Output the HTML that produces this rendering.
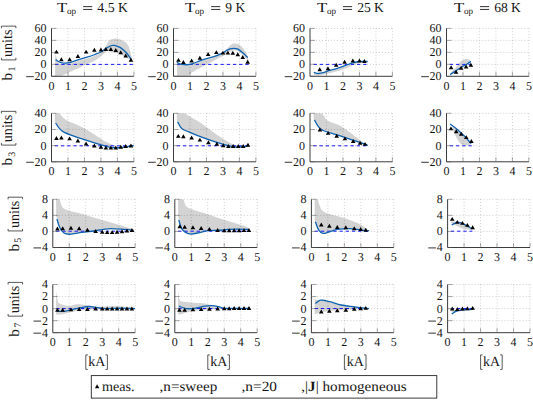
<!DOCTYPE html>
<html><head><meta charset="utf-8"><style>
html,body{margin:0;padding:0;background:#fff;}
body{width:533px;height:405px;overflow:hidden;}
svg{display:block;font-family:"Liberation Serif", serif;text-rendering:geometricPrecision;}
text{fill:#161616;}
</style></head><body>
<svg width="533" height="405" viewBox="0 0 533 405">
<clipPath id="c00"><rect x="51.5" y="28.4" width="82.4" height="47.9"/></clipPath>
<path d="M51.5,28.4H133.9 M51.5,40.38H133.9 M51.5,52.35H133.9 M51.5,64.32H133.9 M67.98,28.4V76.3 M84.46,28.4V76.3 M100.94,28.4V76.3 M117.42,28.4V76.3 M133.9,28.4V76.3" stroke="#a8a8a8" stroke-width="0.7" stroke-dasharray="0.8 2.2" fill="none"/>
<path d="M55.13,53.25 C55.35,53.9 55.81,55.49 56.44,57.14 C57.08,58.79 57.68,61.98 58.92,63.13 C60.15,64.28 62.07,63.93 63.86,64.03 C65.65,64.13 67.29,64.23 69.63,63.73 C71.96,63.23 75.12,61.88 77.87,61.03 C80.61,60.18 83.36,59.49 86.11,58.64 C88.85,57.79 91.88,56.94 94.35,55.94 C96.82,54.94 99.26,53.9 100.94,52.65 C102.62,51.4 103.41,49.86 104.4,48.46 C105.39,47.06 106.05,45.59 106.87,44.27 C107.7,42.94 107.94,41.47 109.34,40.49 C110.75,39.52 112.86,38.33 115.28,38.4 C117.69,38.47 121.73,39.8 123.85,40.91 C125.96,42.03 126.98,43.56 127.97,45.11 C128.96,46.65 129.07,47.8 129.78,50.19 C130.49,52.59 131.84,57.93 132.25,59.48 L132.25,60.73 C131.98,60.66 131.73,60.94 130.6,60.31 C129.48,59.68 127.34,58.02 125.5,56.96 C123.65,55.9 121.95,54.81 119.56,53.97 C117.17,53.12 113.27,52.39 111.16,51.87 C109.04,51.35 107.94,50.66 106.87,50.85 C105.8,51.04 106.54,51.5 104.73,53.01 C102.92,54.52 99.07,58.01 96,59.89 C92.92,61.78 88.94,63.08 86.27,64.32 C83.61,65.57 82.95,66.02 80.01,67.38 C77.07,68.74 71.5,71.14 68.64,72.47 C65.78,73.8 64.08,74.65 62.87,75.34 C61.66,76.03 62.62,76.34 61.39,76.6 C60.15,76.86 56.5,76.85 55.46,76.9 C54.41,76.95 55.18,76.9 55.13,76.9 Z" fill="#000" fill-opacity="0.172" clip-path="url(#c00)"/>
<path d="M55.13,64.4H133.9" stroke="#1a1aff" stroke-width="1.0" stroke-dasharray="3.3 2.9" fill="none"/>
<path d="M55.62,59.65 C56.31,60.08 58.37,61.65 59.74,62.23 C61.11,62.81 62.21,63.06 63.86,63.13 C65.51,63.2 67.29,63.2 69.63,62.65 C71.96,62.1 75.12,60.7 77.87,59.83 C80.61,58.97 83.36,58.29 86.11,57.44 C88.85,56.59 91.88,55.64 94.35,54.74 C96.82,53.85 99.02,53.1 100.94,52.05 C102.86,51 104.24,49.51 105.88,48.46 C107.53,47.41 109.45,46.26 110.83,45.76 C112.2,45.26 113.03,45.36 114.12,45.46 C115.22,45.56 116.32,45.96 117.42,46.36 C118.52,46.76 119.34,46.91 120.72,47.86 C122.09,48.81 123.96,50.22 125.66,52.05 C127.36,53.88 130.05,57.69 130.93,58.82" stroke="#0e62b0" stroke-width="1.3" fill="none" stroke-linejoin="round" clip-path="url(#c00)"/>
<path d="M56.44,49.65L54.14,53.6L58.74,53.6Z M61.39,57.26L59.09,61.21L63.69,61.21Z M69.63,57.26L67.33,61.21L71.93,61.21Z M77.87,54.08L75.57,58.03L80.17,58.03Z M86.11,49.65L83.81,53.6L88.41,53.6Z M94.35,47.85L92.05,51.8L96.65,51.8Z M100.94,47.44L98.64,51.39L103.24,51.39Z M105.88,47.08L103.58,51.03L108.18,51.03Z M110.83,47.08L108.53,51.03L113.13,51.03Z M115.77,47.97L113.47,51.92L118.07,51.92Z M120.72,50.25L118.42,54.2L123.02,54.2Z M125.66,53.54L123.36,57.49L127.96,57.49Z M130.93,57.85L128.63,61.8L133.23,61.8Z" fill="#000"/>
<path d="M51.5,28.4V76.3H133.9" stroke="#262626" stroke-width="0.9" fill="none"/>
<path d="M51.5,28.4h5 M51.5,40.38h5 M51.5,52.35h5 M51.5,64.32h5 M51.5,76.3h5 M67.98,76.3v-4.5 M84.46,76.3v-4.5 M100.94,76.3v-4.5 M117.42,76.3v-4.5 M133.9,76.3v-4.5" stroke="#555" stroke-width="0.5" fill="none"/>
<text x="46.6" y="32.3" font-size="12" text-anchor="end">60</text>
<text x="46.6" y="44.27" font-size="12" text-anchor="end">40</text>
<text x="46.6" y="56.25" font-size="12" text-anchor="end">20</text>
<text x="46.6" y="68.22" font-size="12" text-anchor="end">0</text>
<text x="46.6" y="80.2" font-size="12" text-anchor="end">20</text>
<rect x="26.2" y="76.3" width="7.6" height="0.85" fill="#111"/>
<text x="51.5" y="89.6" font-size="12" text-anchor="middle">0</text>
<text x="67.98" y="89.6" font-size="12" text-anchor="middle">1</text>
<text x="84.46" y="89.6" font-size="12" text-anchor="middle">2</text>
<text x="100.94" y="89.6" font-size="12" text-anchor="middle">3</text>
<text x="117.42" y="89.6" font-size="12" text-anchor="middle">4</text>
<text x="133.9" y="89.6" font-size="12" text-anchor="middle">5</text>
<clipPath id="c01"><rect x="173.5" y="28.4" width="82.4" height="47.9"/></clipPath>
<path d="M173.5,28.4H255.9 M173.5,40.38H255.9 M173.5,52.35H255.9 M173.5,64.32H255.9 M189.98,28.4V76.3 M206.46,28.4V76.3 M222.94,28.4V76.3 M239.42,28.4V76.3 M255.9,28.4V76.3" stroke="#a8a8a8" stroke-width="0.7" stroke-dasharray="0.8 2.2" fill="none"/>
<path d="M176.96,62.23 C177.35,62.53 178.47,63.58 179.27,64.03 C180.06,64.47 180.5,64.71 181.74,64.92 C182.98,65.13 184.98,65.35 186.68,65.28 C188.39,65.21 189.68,65.16 191.96,64.5 C194.24,63.85 197.95,62.19 200.36,61.33 C202.78,60.47 204.18,60.03 206.46,59.36 C208.74,58.68 211.51,58.28 214.04,57.26 C216.57,56.24 219.59,54.46 221.62,53.25 C223.65,52.04 224.97,51.18 226.24,50.01 C227.5,48.85 228.21,47.25 229.2,46.24 C230.19,45.23 231.1,44.41 232.17,43.97 C233.24,43.53 234.5,43.54 235.63,43.61 C236.76,43.68 237.85,43.83 238.93,44.39 C240,44.95 241.18,46.02 242.06,46.96 C242.94,47.9 243.46,48.89 244.2,50.01 C244.94,51.14 245.87,52.48 246.51,53.73 C247.14,54.97 247.63,56.33 247.99,57.5 C248.35,58.67 248.54,60.19 248.65,60.73 L248.65,61.93 C247.93,61.03 245.9,58.19 244.36,56.54 C242.83,54.89 241.07,53.1 239.42,52.05 C237.77,51 236.12,50.3 234.48,50.25 C232.83,50.2 231.1,51.05 229.53,51.75 C227.97,52.45 226.4,53.64 225.08,54.45 C223.76,55.25 227.42,53.43 221.62,56.6 C215.83,59.77 195.58,70.3 190.31,73.49 C185.04,76.67 192.18,75.28 189.98,75.7 C187.78,76.12 179.27,75.95 177.13,76 Z" fill="#000" fill-opacity="0.172" clip-path="url(#c01)"/>
<path d="M177.13,64.4H249.31" stroke="#1a1aff" stroke-width="1.0" stroke-dasharray="3.3 2.9" fill="none"/>
<path d="M176.96,62.11 C177.35,62.36 178.47,63.23 179.27,63.61 C180.06,63.99 180.5,64.2 181.74,64.38 C182.98,64.57 184.98,64.81 186.68,64.74 C188.39,64.67 189.68,64.65 191.96,63.97 C194.24,63.28 197.95,61.5 200.36,60.61 C202.78,59.72 204.18,59.3 206.46,58.64 C208.74,57.98 211.29,57.62 214.04,56.66 C216.79,55.7 220.91,53.91 222.94,52.89 C224.97,51.87 225.05,51.22 226.24,50.55 C227.42,49.89 228.76,49.25 230.03,48.88 C231.29,48.51 232.58,48.34 233.82,48.34 C235.05,48.34 236.21,48.35 237.44,48.88 C238.68,49.41 239.97,50.51 241.23,51.51 C242.5,52.51 243.95,53.87 245.02,54.86 C246.09,55.86 247.22,57.06 247.66,57.5" stroke="#0e62b0" stroke-width="1.3" fill="none" stroke-linejoin="round" clip-path="url(#c01)"/>
<path d="M178.44,57.91L176.14,61.86L180.74,61.86Z M183.39,59.95L181.09,63.9L185.69,63.9Z M191.63,58.45L189.33,62.4L193.93,62.4Z M199.87,55.76L197.57,59.71L202.17,59.71Z M208.11,52.05L205.81,56L210.41,56Z M216.35,50.13L214.05,54.08L218.65,54.08Z M222.94,50.67L220.64,54.62L225.24,54.62Z M227.88,50.67L225.58,54.62L230.18,54.62Z M232.83,50.85L230.53,54.8L235.13,54.8Z M237.77,52.35L235.47,56.3L240.07,56.3Z M242.72,55.04L240.42,58.99L245.02,58.99Z M247.66,59.83L245.36,63.78L249.96,63.78Z" fill="#000"/>
<path d="M173.5,28.4V76.3H255.9" stroke="#262626" stroke-width="0.9" fill="none"/>
<path d="M173.5,28.4h5 M173.5,40.38h5 M173.5,52.35h5 M173.5,64.32h5 M173.5,76.3h5 M189.98,76.3v-4.5 M206.46,76.3v-4.5 M222.94,76.3v-4.5 M239.42,76.3v-4.5 M255.9,76.3v-4.5" stroke="#555" stroke-width="0.5" fill="none"/>
<text x="168.6" y="32.3" font-size="12" text-anchor="end">60</text>
<text x="168.6" y="44.27" font-size="12" text-anchor="end">40</text>
<text x="168.6" y="56.25" font-size="12" text-anchor="end">20</text>
<text x="168.6" y="68.22" font-size="12" text-anchor="end">0</text>
<text x="168.6" y="80.2" font-size="12" text-anchor="end">20</text>
<rect x="148.2" y="76.3" width="7.6" height="0.85" fill="#111"/>
<text x="173.5" y="89.6" font-size="12" text-anchor="middle">0</text>
<text x="189.98" y="89.6" font-size="12" text-anchor="middle">1</text>
<text x="206.46" y="89.6" font-size="12" text-anchor="middle">2</text>
<text x="222.94" y="89.6" font-size="12" text-anchor="middle">3</text>
<text x="239.42" y="89.6" font-size="12" text-anchor="middle">4</text>
<text x="255.9" y="89.6" font-size="12" text-anchor="middle">5</text>
<clipPath id="c02"><rect x="310" y="28.4" width="82.4" height="47.9"/></clipPath>
<path d="M310,28.4H392.4 M310,40.38H392.4 M310,52.35H392.4 M310,64.32H392.4 M326.48,28.4V76.3 M342.96,28.4V76.3 M359.44,28.4V76.3 M375.92,28.4V76.3 M392.4,28.4V76.3" stroke="#a8a8a8" stroke-width="0.7" stroke-dasharray="0.8 2.2" fill="none"/>
<path d="M313.79,73.01 C314.53,73.21 315.85,74.4 318.24,74.2 C320.63,74 324.01,72.96 328.13,71.81 C332.25,70.66 338.84,68.67 342.96,67.32 C347.08,65.97 350.1,64.57 352.85,63.73 C355.59,62.88 357.79,62.53 359.44,62.23 C361.09,61.93 362.19,61.98 362.74,61.93 L362.74,62.23 C361.91,62.38 361.09,61.93 357.79,63.13 C354.5,64.33 347.9,67.67 342.96,69.41 C338.02,71.16 332.25,72.56 328.13,73.61 C324.01,74.65 320.63,75.45 318.24,75.7 C315.85,75.95 314.53,75.2 313.79,75.1 Z" fill="#000" fill-opacity="0.172" clip-path="url(#c02)"/>
<path d="M313.63,64.4H367.68" stroke="#1a1aff" stroke-width="1.0" stroke-dasharray="3.3 2.9" fill="none"/>
<path d="M313.79,72.29 C314.53,72.49 316.67,73.42 318.24,73.49 C319.81,73.56 321.54,73.14 323.18,72.71 C324.83,72.28 325.93,71.61 328.13,70.91 C330.33,70.21 333.9,69.26 336.37,68.52 C338.84,67.77 340.21,67.37 342.96,66.42 C345.71,65.47 350.1,63.65 352.85,62.83 C355.59,62.01 356.97,61.73 359.44,61.51 C361.91,61.29 366.31,61.51 367.68,61.51" stroke="#0e62b0" stroke-width="1.3" fill="none" stroke-linejoin="round" clip-path="url(#c02)"/>
<path d="M319.72,67.19L317.42,71.14L322.02,71.14Z M327.96,66.3L325.66,70.25L330.26,70.25Z M336.2,62.82L333.9,66.77L338.5,66.77Z M344.61,59.83L342.31,63.78L346.91,63.78Z M352.85,58.45L350.55,62.4L355.15,62.4Z M359.44,58.45L357.14,62.4L361.74,62.4Z M364.38,59.11L362.08,63.06L366.68,63.06Z" fill="#000"/>
<path d="M310,28.4V76.3H392.4" stroke="#262626" stroke-width="0.9" fill="none"/>
<path d="M310,28.4h5 M310,40.38h5 M310,52.35h5 M310,64.32h5 M310,76.3h5 M326.48,76.3v-4.5 M342.96,76.3v-4.5 M359.44,76.3v-4.5 M375.92,76.3v-4.5 M392.4,76.3v-4.5" stroke="#555" stroke-width="0.5" fill="none"/>
<text x="305.1" y="32.3" font-size="12" text-anchor="end">60</text>
<text x="305.1" y="44.27" font-size="12" text-anchor="end">40</text>
<text x="305.1" y="56.25" font-size="12" text-anchor="end">20</text>
<text x="305.1" y="68.22" font-size="12" text-anchor="end">0</text>
<text x="305.1" y="80.2" font-size="12" text-anchor="end">20</text>
<rect x="284.7" y="76.3" width="7.6" height="0.85" fill="#111"/>
<text x="310" y="89.6" font-size="12" text-anchor="middle">0</text>
<text x="326.48" y="89.6" font-size="12" text-anchor="middle">1</text>
<text x="342.96" y="89.6" font-size="12" text-anchor="middle">2</text>
<text x="359.44" y="89.6" font-size="12" text-anchor="middle">3</text>
<text x="375.92" y="89.6" font-size="12" text-anchor="middle">4</text>
<text x="392.4" y="89.6" font-size="12" text-anchor="middle">5</text>
<clipPath id="c03"><rect x="446.5" y="28.4" width="82.4" height="47.9"/></clipPath>
<path d="M446.5,28.4H528.9 M446.5,40.38H528.9 M446.5,52.35H528.9 M446.5,64.32H528.9 M462.98,28.4V76.3 M479.46,28.4V76.3 M495.94,28.4V76.3 M512.42,28.4V76.3 M528.9,28.4V76.3" stroke="#a8a8a8" stroke-width="0.7" stroke-dasharray="0.8 2.2" fill="none"/>
<path d="M450.13,73.91 C450.48,73.41 451.39,71.9 452.27,70.91 C453.15,69.92 454.3,69.27 455.4,67.98 C456.5,66.68 457.71,64.39 458.86,63.13 C460.01,61.86 461.17,61.06 462.32,60.37 C463.47,59.68 464.77,59.18 465.78,59 C466.8,58.82 467.65,58.96 468.42,59.3 C469.19,59.63 470.07,60.74 470.4,61.03 L470.4,61.93 C469.71,62.33 467.51,63.55 466.28,64.32 C465.04,65.1 464.35,65.65 462.98,66.6 C461.61,67.55 459.55,68.9 458.04,70.01 C456.53,71.13 455.01,72.46 453.92,73.31 C452.82,74.15 452.08,74.75 451.44,75.1 C450.81,75.45 450.35,75.35 450.13,75.4 Z" fill="#000" fill-opacity="0.172" clip-path="url(#c03)"/>
<path d="M449.8,64.4H471.22" stroke="#1a1aff" stroke-width="1.0" stroke-dasharray="3.3 2.9" fill="none"/>
<path d="M450.13,74.5 C451.17,73.84 454.25,71.87 456.39,70.49 C458.53,69.11 461.19,67.33 462.98,66.24 C464.77,65.15 465.78,64.77 467.1,63.97 C468.42,63.16 470.26,61.82 470.89,61.39" stroke="#0e62b0" stroke-width="1.3" fill="none" stroke-linejoin="round" clip-path="url(#c03)"/>
<path d="M451.11,65.28L448.81,69.23L453.41,69.23Z M456.06,69.83L453.76,73.78L458.36,73.78Z M461.17,65.76L458.87,69.71L463.47,69.71Z M466.11,64.5L463.81,68.45L468.41,68.45Z M470.89,62.76L468.59,66.71L473.19,66.71Z" fill="#000"/>
<path d="M446.5,28.4V76.3H528.9" stroke="#262626" stroke-width="0.9" fill="none"/>
<path d="M446.5,28.4h5 M446.5,40.38h5 M446.5,52.35h5 M446.5,64.32h5 M446.5,76.3h5 M462.98,76.3v-4.5 M479.46,76.3v-4.5 M495.94,76.3v-4.5 M512.42,76.3v-4.5 M528.9,76.3v-4.5" stroke="#555" stroke-width="0.5" fill="none"/>
<text x="441.6" y="32.3" font-size="12" text-anchor="end">60</text>
<text x="441.6" y="44.27" font-size="12" text-anchor="end">40</text>
<text x="441.6" y="56.25" font-size="12" text-anchor="end">20</text>
<text x="441.6" y="68.22" font-size="12" text-anchor="end">0</text>
<text x="441.6" y="80.2" font-size="12" text-anchor="end">20</text>
<rect x="421.2" y="76.3" width="7.6" height="0.85" fill="#111"/>
<text x="446.5" y="89.6" font-size="12" text-anchor="middle">0</text>
<text x="462.98" y="89.6" font-size="12" text-anchor="middle">1</text>
<text x="479.46" y="89.6" font-size="12" text-anchor="middle">2</text>
<text x="495.94" y="89.6" font-size="12" text-anchor="middle">3</text>
<text x="512.42" y="89.6" font-size="12" text-anchor="middle">4</text>
<text x="528.9" y="89.6" font-size="12" text-anchor="middle">5</text>
<clipPath id="c10"><rect x="51.5" y="113.3" width="82.4" height="48.5"/></clipPath>
<path d="M51.5,113.3H133.9 M51.5,129.47H133.9 M51.5,145.63H133.9 M67.98,113.3V161.8 M84.46,113.3V161.8 M100.94,113.3V161.8 M117.42,113.3V161.8 M133.9,113.3V161.8" stroke="#a8a8a8" stroke-width="0.7" stroke-dasharray="0.8 2.2" fill="none"/>
<path d="M54.8,101.17 C55.35,102.52 57.24,107.21 58.09,109.26 C58.94,111.31 59.11,112.1 59.9,113.46 C60.7,114.82 61.55,116.18 62.87,117.42 C64.19,118.66 65.84,119.83 67.82,120.9 C69.79,121.96 71.88,122.5 74.74,123.81 C77.59,125.12 81.6,126.91 84.95,128.74 C88.31,130.57 91.55,132.73 94.84,134.8 C98.14,136.88 101.76,139.53 104.73,141.19 C107.7,142.84 110.53,143.76 112.64,144.74 C114.76,145.73 116.62,146.7 117.42,147.09 L117.42,147.82 C115.63,147.61 110,147.24 106.71,146.6 C103.41,145.97 101.35,145.15 97.64,144.02 C93.94,142.89 88.66,141.21 84.46,139.81 C80.26,138.41 75.86,136.88 72.43,135.61 C69,134.34 65.97,133.32 63.86,132.22 C61.75,131.11 61.11,130.5 59.74,128.98 C58.37,127.46 56.44,124.35 55.62,123.08 C54.8,121.81 54.93,121.67 54.8,121.38 Z" fill="#000" fill-opacity="0.172" clip-path="url(#c10)"/>
<path d="M54.8,145.8H133.9" stroke="#1a1aff" stroke-width="1.0" stroke-dasharray="3.3 2.9" fill="none"/>
<path d="M55.62,123 C56.31,123.98 58.37,127.38 59.74,128.9 C61.11,130.42 61.75,131.03 63.86,132.13 C65.97,133.24 69,134.26 72.43,135.53 C75.86,136.8 80.26,138.33 84.46,139.73 C88.66,141.13 93.94,142.8 97.64,143.94 C101.35,145.07 103.55,145.89 106.71,146.52 C109.87,147.16 113.16,147.74 116.6,147.74 C120.03,147.74 124.42,146.91 127.31,146.52 C130.19,146.13 132.8,145.58 133.9,145.39" stroke="#0e62b0" stroke-width="1.3" fill="none" stroke-linejoin="round" clip-path="url(#c10)"/>
<path d="M56.44,135.94L54.14,139.88L58.74,139.88Z M61.39,135.45L59.09,139.4L63.69,139.4Z M69.63,136.42L67.33,140.37L71.93,140.37Z M77.87,138.52L75.57,142.47L80.17,142.47Z M86.11,141.51L83.81,145.46L88.41,145.46Z M94.35,143.53L92.05,147.48L96.65,147.48Z M100.94,144.75L98.64,148.7L103.24,148.7Z M105.88,145.64L103.58,149.59L108.18,149.59Z M110.83,145.64L108.53,149.59L113.13,149.59Z M115.77,145.64L113.47,149.59L118.07,149.59Z M120.72,144.75L118.42,148.7L123.02,148.7Z M125.66,144.02L123.36,147.97L127.96,147.97Z M130.93,143.45L128.63,147.4L133.23,147.4Z" fill="#000"/>
<path d="M51.5,113.3V161.8H133.9" stroke="#262626" stroke-width="0.9" fill="none"/>
<path d="M51.5,113.3h5 M51.5,129.47h5 M51.5,145.63h5 M51.5,161.8h5 M67.98,161.8v-4.5 M84.46,161.8v-4.5 M100.94,161.8v-4.5 M117.42,161.8v-4.5 M133.9,161.8v-4.5" stroke="#555" stroke-width="0.5" fill="none"/>
<text x="46.6" y="117.2" font-size="12" text-anchor="end">40</text>
<text x="46.6" y="133.37" font-size="12" text-anchor="end">20</text>
<text x="46.6" y="149.53" font-size="12" text-anchor="end">0</text>
<text x="46.6" y="165.7" font-size="12" text-anchor="end">20</text>
<rect x="26.2" y="161.8" width="7.6" height="0.85" fill="#111"/>
<text x="51.5" y="175.1" font-size="12" text-anchor="middle">0</text>
<text x="67.98" y="175.1" font-size="12" text-anchor="middle">1</text>
<text x="84.46" y="175.1" font-size="12" text-anchor="middle">2</text>
<text x="100.94" y="175.1" font-size="12" text-anchor="middle">3</text>
<text x="117.42" y="175.1" font-size="12" text-anchor="middle">4</text>
<text x="133.9" y="175.1" font-size="12" text-anchor="middle">5</text>
<clipPath id="c11"><rect x="173.5" y="113.3" width="82.4" height="48.5"/></clipPath>
<path d="M173.5,113.3H255.9 M173.5,129.47H255.9 M173.5,145.63H255.9 M189.98,113.3V161.8 M206.46,113.3V161.8 M222.94,113.3V161.8 M239.42,113.3V161.8 M255.9,113.3V161.8" stroke="#a8a8a8" stroke-width="0.7" stroke-dasharray="0.8 2.2" fill="none"/>
<path d="M176.8,98.75 C177.62,100.1 180.23,104.39 181.74,106.83 C183.25,109.27 184.32,111.67 185.86,113.38 C187.4,115.09 188.72,115.63 190.97,117.1 C193.22,118.57 196.79,120.56 199.37,122.19 C201.96,123.82 203.08,124.48 206.46,126.88 C209.84,129.28 215.74,133.93 219.64,136.58 C223.54,139.23 227.06,141.32 229.86,142.8 C232.66,144.29 234.31,144.87 236.45,145.47 C238.6,146.08 241.67,146.28 242.72,146.44 L242.72,146.68 C242.17,146.72 241.07,146.94 239.42,146.93 C237.77,146.91 235.52,147.02 232.83,146.6 C230.14,146.19 227.66,145.69 223.27,144.42 C218.87,143.15 212.15,141.04 206.46,139 C200.77,136.97 193.28,133.95 189.16,132.22 C185.04,130.48 183.66,130.3 181.74,128.58 C179.82,126.85 178.44,123.34 177.62,121.87 C176.8,120.4 176.93,120.12 176.8,119.77 Z" fill="#000" fill-opacity="0.172" clip-path="url(#c11)"/>
<path d="M176.8,145.8H249.31" stroke="#1a1aff" stroke-width="1.0" stroke-dasharray="3.3 2.9" fill="none"/>
<path d="M177.62,121.79 C178.31,122.91 179.82,126.77 181.74,128.5 C183.66,130.22 185.04,130.4 189.16,132.13 C193.28,133.87 200.77,136.89 206.46,138.92 C212.15,140.96 218.87,143.07 223.27,144.34 C227.66,145.61 230.14,146.1 232.83,146.52 C235.52,146.94 237.5,146.86 239.42,146.85 C241.34,146.83 242.99,146.64 244.36,146.44 C245.74,146.24 247.11,145.77 247.66,145.63" stroke="#0e62b0" stroke-width="1.3" fill="none" stroke-linejoin="round" clip-path="url(#c11)"/>
<path d="M178.28,133.91L175.98,137.86L180.58,137.86Z M183.39,134.32L181.09,138.27L185.69,138.27Z M191.63,135.45L189.33,139.4L193.93,139.4Z M199.87,137.63L197.57,141.58L202.17,141.58Z M208.44,140.22L206.14,144.17L210.74,144.17Z M216.84,141.84L214.54,145.79L219.14,145.79Z M223.27,143.21L220.97,147.16L225.57,147.16Z M228.38,144.02L226.08,147.97L230.68,147.97Z M233.16,144.02L230.86,147.97L235.46,147.97Z M238.27,144.02L235.97,147.97L240.57,147.97Z M243.21,143.94L240.91,147.89L245.51,147.89Z M247.99,142.73L245.69,146.68L250.29,146.68Z" fill="#000"/>
<path d="M173.5,113.3V161.8H255.9" stroke="#262626" stroke-width="0.9" fill="none"/>
<path d="M173.5,113.3h5 M173.5,129.47h5 M173.5,145.63h5 M173.5,161.8h5 M189.98,161.8v-4.5 M206.46,161.8v-4.5 M222.94,161.8v-4.5 M239.42,161.8v-4.5 M255.9,161.8v-4.5" stroke="#555" stroke-width="0.5" fill="none"/>
<text x="168.6" y="117.2" font-size="12" text-anchor="end">40</text>
<text x="168.6" y="133.37" font-size="12" text-anchor="end">20</text>
<text x="168.6" y="149.53" font-size="12" text-anchor="end">0</text>
<text x="168.6" y="165.7" font-size="12" text-anchor="end">20</text>
<rect x="148.2" y="161.8" width="7.6" height="0.85" fill="#111"/>
<text x="173.5" y="175.1" font-size="12" text-anchor="middle">0</text>
<text x="189.98" y="175.1" font-size="12" text-anchor="middle">1</text>
<text x="206.46" y="175.1" font-size="12" text-anchor="middle">2</text>
<text x="222.94" y="175.1" font-size="12" text-anchor="middle">3</text>
<text x="239.42" y="175.1" font-size="12" text-anchor="middle">4</text>
<text x="255.9" y="175.1" font-size="12" text-anchor="middle">5</text>
<clipPath id="c12"><rect x="310" y="113.3" width="82.4" height="48.5"/></clipPath>
<path d="M310,113.3H392.4 M310,129.47H392.4 M310,145.63H392.4 M326.48,113.3V161.8 M342.96,113.3V161.8 M359.44,113.3V161.8 M375.92,113.3V161.8 M392.4,113.3V161.8" stroke="#a8a8a8" stroke-width="0.7" stroke-dasharray="0.8 2.2" fill="none"/>
<path d="M313.63,98.75 C314.39,100.1 316.84,104.41 318.24,106.83 C319.64,109.26 320.96,111.59 322.03,113.3 C323.1,115.01 323.95,116.03 324.67,117.1 C325.38,118.16 324.91,118.7 326.32,119.69 C327.72,120.67 330.82,122.02 333.07,123 C335.32,123.98 336.45,123.61 339.83,125.59 C343.21,127.57 349.69,132.22 353.34,134.88 C357,137.55 359.63,139.91 361.75,141.59 C363.86,143.28 365.32,144.42 366.03,144.99 L365.21,144.18 C364.66,144.03 364.11,144 361.91,143.29 C359.71,142.58 356.28,141.31 352.02,139.89 C347.77,138.48 341.17,136.35 336.37,134.8 C331.56,133.25 326.21,131.99 323.18,130.6 C320.16,129.21 319.7,128.24 318.24,126.48 C316.78,124.71 315.22,121.4 314.45,120.01 C313.68,118.62 313.76,118.46 313.63,118.15 Z" fill="#000" fill-opacity="0.172" clip-path="url(#c12)"/>
<path d="M313.3,145.8H367.68" stroke="#1a1aff" stroke-width="1.0" stroke-dasharray="3.3 2.9" fill="none"/>
<path d="M314.45,119.93 C315.08,121.01 316.78,124.63 318.24,126.39 C319.7,128.16 320.16,129.13 323.18,130.52 C326.21,131.91 331.56,133.17 336.37,134.72 C341.17,136.27 347.77,138.4 352.02,139.81 C356.28,141.23 359.3,142.29 361.91,143.21 C364.52,144.12 366.72,144.96 367.68,145.31" stroke="#0e62b0" stroke-width="1.3" fill="none" stroke-linejoin="round" clip-path="url(#c12)"/>
<path d="M319.89,127.53L317.59,131.48L322.19,131.48Z M328.13,130.92L325.83,134.87L330.43,134.87Z M336.7,133.83L334.4,137.78L339,137.78Z M344.94,136.42L342.64,140.37L347.24,140.37Z M353.18,139.01L350.88,142.96L355.48,142.96Z M360.1,140.7L357.8,144.65L362.4,144.65Z M365.04,141.92L362.74,145.87L367.34,145.87Z" fill="#000"/>
<path d="M310,113.3V161.8H392.4" stroke="#262626" stroke-width="0.9" fill="none"/>
<path d="M310,113.3h5 M310,129.47h5 M310,145.63h5 M310,161.8h5 M326.48,161.8v-4.5 M342.96,161.8v-4.5 M359.44,161.8v-4.5 M375.92,161.8v-4.5 M392.4,161.8v-4.5" stroke="#555" stroke-width="0.5" fill="none"/>
<text x="305.1" y="117.2" font-size="12" text-anchor="end">40</text>
<text x="305.1" y="133.37" font-size="12" text-anchor="end">20</text>
<text x="305.1" y="149.53" font-size="12" text-anchor="end">0</text>
<text x="305.1" y="165.7" font-size="12" text-anchor="end">20</text>
<rect x="284.7" y="161.8" width="7.6" height="0.85" fill="#111"/>
<text x="310" y="175.1" font-size="12" text-anchor="middle">0</text>
<text x="326.48" y="175.1" font-size="12" text-anchor="middle">1</text>
<text x="342.96" y="175.1" font-size="12" text-anchor="middle">2</text>
<text x="359.44" y="175.1" font-size="12" text-anchor="middle">3</text>
<text x="375.92" y="175.1" font-size="12" text-anchor="middle">4</text>
<text x="392.4" y="175.1" font-size="12" text-anchor="middle">5</text>
<clipPath id="c13"><rect x="446.5" y="113.3" width="82.4" height="48.5"/></clipPath>
<path d="M446.5,113.3H528.9 M446.5,129.47H528.9 M446.5,145.63H528.9 M462.98,113.3V161.8 M479.46,113.3V161.8 M495.94,113.3V161.8 M512.42,113.3V161.8 M528.9,113.3V161.8" stroke="#a8a8a8" stroke-width="0.7" stroke-dasharray="0.8 2.2" fill="none"/>
<path d="M452.27,125.59 C452.95,126.1 454.74,127.27 456.39,128.66 C458.04,130.05 460.51,132.36 462.16,133.91 C463.8,135.46 464.9,136.43 466.28,137.95 C467.65,139.48 469.71,142.2 470.4,143.05 L470.4,144.83 C469.71,144.92 467.65,145.39 466.28,145.39 C464.9,145.39 463.39,145.46 462.16,144.83 C460.92,144.19 459.96,143.07 458.86,141.59 C457.76,140.11 456.53,137.82 455.56,135.93 C454.6,134.05 453.64,132 453.09,130.28 C452.54,128.55 452.41,126.37 452.27,125.59 Z" fill="#000" fill-opacity="0.172" clip-path="url(#c13)"/>
<path d="M449.8,145.8H472.04" stroke="#1a1aff" stroke-width="1.0" stroke-dasharray="3.3 2.9" fill="none"/>
<path d="M450.13,124.05 C451.17,124.82 454.38,127.01 456.39,128.66 C458.39,130.3 460.51,132.36 462.16,133.91 C463.8,135.46 464.79,136.34 466.28,137.95 C467.76,139.57 470.26,142.67 471.06,143.61" stroke="#0e62b0" stroke-width="1.3" fill="none" stroke-linejoin="round" clip-path="url(#c13)"/>
<path d="M450.95,126.4L448.65,130.35L453.25,130.35Z M456.22,129.23L453.92,133.18L458.52,133.18Z M461.17,131.73L458.87,135.68L463.47,135.68Z M466.28,135.13L463.98,139.08L468.58,139.08Z M471.38,139.01L469.08,142.96L473.68,142.96Z" fill="#000"/>
<path d="M446.5,113.3V161.8H528.9" stroke="#262626" stroke-width="0.9" fill="none"/>
<path d="M446.5,113.3h5 M446.5,129.47h5 M446.5,145.63h5 M446.5,161.8h5 M462.98,161.8v-4.5 M479.46,161.8v-4.5 M495.94,161.8v-4.5 M512.42,161.8v-4.5 M528.9,161.8v-4.5" stroke="#555" stroke-width="0.5" fill="none"/>
<text x="441.6" y="117.2" font-size="12" text-anchor="end">40</text>
<text x="441.6" y="133.37" font-size="12" text-anchor="end">20</text>
<text x="441.6" y="149.53" font-size="12" text-anchor="end">0</text>
<text x="441.6" y="165.7" font-size="12" text-anchor="end">20</text>
<rect x="421.2" y="161.8" width="7.6" height="0.85" fill="#111"/>
<text x="446.5" y="175.1" font-size="12" text-anchor="middle">0</text>
<text x="462.98" y="175.1" font-size="12" text-anchor="middle">1</text>
<text x="479.46" y="175.1" font-size="12" text-anchor="middle">2</text>
<text x="495.94" y="175.1" font-size="12" text-anchor="middle">3</text>
<text x="512.42" y="175.1" font-size="12" text-anchor="middle">4</text>
<text x="528.9" y="175.1" font-size="12" text-anchor="middle">5</text>
<clipPath id="c20"><rect x="52.8" y="199.3" width="82.4" height="48.2"/></clipPath>
<path d="M52.8,199.3H135.2 M52.8,215.37H135.2 M52.8,231.43H135.2 M69.28,199.3V247.5 M85.76,199.3V247.5 M102.24,199.3V247.5 M118.72,199.3V247.5 M135.2,199.3V247.5" stroke="#a8a8a8" stroke-width="0.7" stroke-dasharray="0.8 2.2" fill="none"/>
<path d="M56.1,191.27 C56.51,191.6 57.88,191.67 58.57,193.28 C59.25,194.88 59.75,198.97 60.22,200.91 C60.68,202.85 60.77,203.65 61.37,204.92 C61.97,206.2 62.58,207.6 63.84,208.54 C65.11,209.48 65.35,209.48 68.95,210.55 C72.55,211.62 79.88,213.39 85.43,214.97 C90.98,216.54 96.55,218.31 102.24,219.99 C107.93,221.66 114.24,223.43 119.54,225.01 C124.85,226.58 131.63,228.69 134.05,229.43 L133.55,230.43 C131.63,230.23 125.86,229.53 122.02,229.22 C118.17,228.92 113.78,228.55 110.48,228.62 C107.18,228.69 105.81,229.12 102.24,229.63 C98.67,230.13 93.18,231.07 89.06,231.63 C84.94,232.2 80.82,232.6 77.52,233.04 C74.22,233.48 71.53,234.25 69.28,234.25 C67.03,234.25 65.6,234.18 64.01,233.04 C62.41,231.9 60.9,229.76 59.72,227.42 C58.54,225.07 57.52,220.99 56.92,218.98 C56.32,216.97 56.23,215.97 56.1,215.37 Z" fill="#000" fill-opacity="0.172" clip-path="url(#c20)"/>
<path d="M56.1,231.2H135.2" stroke="#1a1aff" stroke-width="1.0" stroke-dasharray="3.3 2.9" fill="none"/>
<path d="M56.92,218.98 C57.39,220.39 58.54,225.07 59.72,227.42 C60.9,229.76 62.41,231.9 64.01,233.04 C65.6,234.18 67.03,234.25 69.28,234.25 C71.53,234.25 74.22,233.48 77.52,233.04 C80.82,232.6 84.94,232.2 89.06,231.63 C93.18,231.07 98.67,230.13 102.24,229.63 C105.81,229.12 107.18,228.69 110.48,228.62 C113.78,228.55 118.17,228.92 122.02,229.22 C125.86,229.53 131.63,230.23 133.55,230.43" stroke="#0e62b0" stroke-width="1.3" fill="none" stroke-linejoin="round" clip-path="url(#c20)"/>
<path d="M57.41,226.52L55.11,230.47L59.71,230.47Z M62.69,226.32L60.39,230.27L64.99,230.27Z M70.93,225.72L68.63,229.67L73.23,229.67Z M79.17,226.32L76.87,230.27L81.47,230.27Z M87.41,227.73L85.11,231.68L89.71,231.68Z M95.65,228.93L93.35,232.88L97.95,232.88Z M102.24,229.74L99.94,233.69L104.54,233.69Z M107.18,230.14L104.88,234.09L109.48,234.09Z M112.13,230.14L109.83,234.09L114.43,234.09Z M117.07,229.74L114.77,233.69L119.37,233.69Z M122.02,229.33L119.72,233.28L124.32,233.28Z M126.96,228.53L124.66,232.48L129.26,232.48Z M131.9,227.93L129.6,231.88L134.2,231.88Z" fill="#000"/>
<path d="M52.8,199.3V247.5H135.2" stroke="#262626" stroke-width="0.9" fill="none"/>
<path d="M52.8,199.3h5 M52.8,215.37h5 M52.8,231.43h5 M52.8,247.5h5 M69.28,247.5v-4.5 M85.76,247.5v-4.5 M102.24,247.5v-4.5 M118.72,247.5v-4.5 M135.2,247.5v-4.5" stroke="#555" stroke-width="0.5" fill="none"/>
<text x="47.9" y="203.2" font-size="12" text-anchor="end">8</text>
<text x="47.9" y="219.27" font-size="12" text-anchor="end">4</text>
<text x="47.9" y="235.33" font-size="12" text-anchor="end">0</text>
<text x="47.9" y="251.4" font-size="12" text-anchor="end">4</text>
<rect x="33.5" y="247.5" width="7.6" height="0.85" fill="#111"/>
<text x="52.8" y="260.8" font-size="12" text-anchor="middle">0</text>
<text x="69.28" y="260.8" font-size="12" text-anchor="middle">1</text>
<text x="85.76" y="260.8" font-size="12" text-anchor="middle">2</text>
<text x="102.24" y="260.8" font-size="12" text-anchor="middle">3</text>
<text x="118.72" y="260.8" font-size="12" text-anchor="middle">4</text>
<text x="135.2" y="260.8" font-size="12" text-anchor="middle">5</text>
<clipPath id="c21"><rect x="174.8" y="199.3" width="82.4" height="48.2"/></clipPath>
<path d="M174.8,199.3H257.2 M174.8,215.37H257.2 M174.8,231.43H257.2 M191.28,199.3V247.5 M207.76,199.3V247.5 M224.24,199.3V247.5 M240.72,199.3V247.5 M257.2,199.3V247.5" stroke="#a8a8a8" stroke-width="0.7" stroke-dasharray="0.8 2.2" fill="none"/>
<path d="M178.1,191.27 C178.65,191.6 180.51,191.94 181.39,193.28 C182.27,194.61 182.9,197.96 183.37,199.3 C183.84,200.64 183.78,200.24 184.19,201.31 C184.61,202.38 184.72,204.45 185.84,205.73 C186.97,207 187.3,207.53 190.95,208.94 C194.6,210.35 202.13,212.32 207.76,214.16 C213.39,216 219.1,218.18 224.73,219.99 C230.37,221.79 237.31,223.57 241.54,225.01 C245.77,226.45 248.69,228.02 250.11,228.62 L250.11,229.63 C248,229.59 241.1,229.43 237.42,229.43 C233.74,229.43 231,229.46 228.03,229.63 C225.06,229.79 223,230.23 219.63,230.43 C216.25,230.63 211.14,230.43 207.76,230.83 C204.38,231.23 202.16,232.27 199.36,232.84 C196.55,233.41 193.2,234.25 190.95,234.25 C188.7,234.25 187.38,233.78 185.84,232.84 C184.3,231.9 182.9,230.73 181.72,228.62 C180.54,226.51 179.36,222.4 178.76,220.19 C178.15,217.98 178.21,216.17 178.1,215.37 Z" fill="#000" fill-opacity="0.172" clip-path="url(#c21)"/>
<path d="M178.1,231.2H250.61" stroke="#1a1aff" stroke-width="1.0" stroke-dasharray="3.3 2.9" fill="none"/>
<path d="M178.76,219.99 C179.25,221.43 180.54,226.51 181.72,228.62 C182.9,230.73 184.3,231.73 185.84,232.64 C187.38,233.54 188.7,234.04 190.95,234.04 C193.2,234.04 196.55,233.21 199.36,232.64 C202.16,232.07 204.38,231.03 207.76,230.63 C211.14,230.23 216.25,230.43 219.63,230.23 C223,230.03 225.06,229.59 228.03,229.43 C231,229.26 233.94,229.22 237.42,229.22 C240.91,229.22 247.04,229.39 248.96,229.43" stroke="#0e62b0" stroke-width="1.3" fill="none" stroke-linejoin="round" clip-path="url(#c21)"/>
<path d="M179.74,224.19L177.44,228.14L182.04,228.14Z M184.69,224.71L182.39,228.66L186.99,228.66Z M192.93,225.24L190.63,229.19L195.23,229.19Z M201.17,226.12L198.87,230.07L203.47,230.07Z M209.41,226.92L207.11,230.87L211.71,230.87Z M217.65,228.05L215.35,232L219.95,232Z M224.24,228.37L221.94,232.32L226.54,232.32Z M229.18,228.37L226.88,232.32L231.48,232.32Z M234.13,228.37L231.83,232.32L236.43,232.32Z M239.07,228.37L236.77,232.32L241.37,232.32Z M244.02,228.13L241.72,232.08L246.32,232.08Z M248.96,228.13L246.66,232.08L251.26,232.08Z" fill="#000"/>
<path d="M174.8,199.3V247.5H257.2" stroke="#262626" stroke-width="0.9" fill="none"/>
<path d="M174.8,199.3h5 M174.8,215.37h5 M174.8,231.43h5 M174.8,247.5h5 M191.28,247.5v-4.5 M207.76,247.5v-4.5 M224.24,247.5v-4.5 M240.72,247.5v-4.5 M257.2,247.5v-4.5" stroke="#555" stroke-width="0.5" fill="none"/>
<text x="169.9" y="203.2" font-size="12" text-anchor="end">8</text>
<text x="169.9" y="219.27" font-size="12" text-anchor="end">4</text>
<text x="169.9" y="235.33" font-size="12" text-anchor="end">0</text>
<text x="169.9" y="251.4" font-size="12" text-anchor="end">4</text>
<rect x="155.5" y="247.5" width="7.6" height="0.85" fill="#111"/>
<text x="174.8" y="260.8" font-size="12" text-anchor="middle">0</text>
<text x="191.28" y="260.8" font-size="12" text-anchor="middle">1</text>
<text x="207.76" y="260.8" font-size="12" text-anchor="middle">2</text>
<text x="224.24" y="260.8" font-size="12" text-anchor="middle">3</text>
<text x="240.72" y="260.8" font-size="12" text-anchor="middle">4</text>
<text x="257.2" y="260.8" font-size="12" text-anchor="middle">5</text>
<clipPath id="c22"><rect x="311.4" y="199.3" width="82.4" height="48.2"/></clipPath>
<path d="M311.4,199.3H393.8 M311.4,215.37H393.8 M311.4,231.43H393.8 M327.88,199.3V247.5 M344.36,199.3V247.5 M360.84,199.3V247.5 M377.32,199.3V247.5 M393.8,199.3V247.5" stroke="#a8a8a8" stroke-width="0.7" stroke-dasharray="0.8 2.2" fill="none"/>
<path d="M314.7,189.26 C314.97,189.59 315.82,189.59 316.34,191.27 C316.87,192.94 317.31,197.02 317.83,199.3 C318.35,201.58 318.79,203.15 319.48,204.92 C320.16,206.7 320.55,208.5 321.95,209.94 C323.35,211.38 324.06,212.17 327.88,213.56 C331.7,214.95 339.5,216.52 344.85,218.3 C350.21,220.07 356.23,222.35 360.02,224.2 C363.81,226.06 366.33,228.55 367.6,229.43 L368.26,230.63 C367.02,230.53 364,230.36 360.84,230.03 C357.68,229.69 353.15,228.72 349.3,228.62 C345.46,228.52 341.06,228.89 337.77,229.43 C334.47,229.96 332,231.17 329.53,231.84 C327.06,232.5 324.72,233.71 322.94,233.44 C321.15,233.17 320.08,232.17 318.82,230.23 C317.55,228.29 316.04,223.6 315.36,221.79 C314.67,219.99 314.81,219.78 314.7,219.38 Z" fill="#000" fill-opacity="0.172" clip-path="url(#c22)"/>
<path d="M314.7,231.2H369.08" stroke="#1a1aff" stroke-width="1.0" stroke-dasharray="3.3 2.9" fill="none"/>
<path d="M315.36,221.79 C315.93,223.2 317.55,228.29 318.82,230.23 C320.08,232.17 321.15,233.17 322.94,233.44 C324.72,233.71 327.06,232.5 329.53,231.84 C332,231.17 334.47,229.96 337.77,229.43 C341.06,228.89 345.46,228.52 349.3,228.62 C353.15,228.72 357.54,229.69 360.84,230.03 C364.14,230.36 367.71,230.53 369.08,230.63" stroke="#0e62b0" stroke-width="1.3" fill="none" stroke-linejoin="round" clip-path="url(#c22)"/>
<path d="M321.29,222.51L318.99,226.46L323.59,226.46Z M329.36,223.71L327.06,227.66L331.66,227.66Z M337.27,225.12L334.97,229.07L339.57,229.07Z M345.84,225.32L343.54,229.27L348.14,229.27Z M354.25,226.32L351.95,230.27L356.55,230.27Z M360.68,227.12L358.38,231.07L362.98,231.07Z M365.78,227.73L363.48,231.68L368.08,231.68Z" fill="#000"/>
<path d="M311.4,199.3V247.5H393.8" stroke="#262626" stroke-width="0.9" fill="none"/>
<path d="M311.4,199.3h5 M311.4,215.37h5 M311.4,231.43h5 M311.4,247.5h5 M327.88,247.5v-4.5 M344.36,247.5v-4.5 M360.84,247.5v-4.5 M377.32,247.5v-4.5 M393.8,247.5v-4.5" stroke="#555" stroke-width="0.5" fill="none"/>
<text x="306.5" y="203.2" font-size="12" text-anchor="end">8</text>
<text x="306.5" y="219.27" font-size="12" text-anchor="end">4</text>
<text x="306.5" y="235.33" font-size="12" text-anchor="end">0</text>
<text x="306.5" y="251.4" font-size="12" text-anchor="end">4</text>
<rect x="292.1" y="247.5" width="7.6" height="0.85" fill="#111"/>
<text x="311.4" y="260.8" font-size="12" text-anchor="middle">0</text>
<text x="327.88" y="260.8" font-size="12" text-anchor="middle">1</text>
<text x="344.36" y="260.8" font-size="12" text-anchor="middle">2</text>
<text x="360.84" y="260.8" font-size="12" text-anchor="middle">3</text>
<text x="377.32" y="260.8" font-size="12" text-anchor="middle">4</text>
<text x="393.8" y="260.8" font-size="12" text-anchor="middle">5</text>
<clipPath id="c23"><rect x="447.6" y="199.3" width="82.4" height="48.2"/></clipPath>
<path d="M447.6,199.3H530 M447.6,215.37H530 M447.6,231.43H530 M464.08,199.3V247.5 M480.56,199.3V247.5 M497.04,199.3V247.5 M513.52,199.3V247.5 M530,199.3V247.5" stroke="#a8a8a8" stroke-width="0.7" stroke-dasharray="0.8 2.2" fill="none"/>
<path d="M450.9,220.99 C451.99,221.19 455.43,221.73 457.49,222.19 C459.55,222.66 461.47,223.07 463.26,223.8 C465.04,224.54 466.69,225.74 468.2,226.61 C469.71,227.48 471.63,228.62 472.32,229.02 L472.32,229.63 C471.63,229.59 469.41,229.48 468.2,229.43 C466.99,229.37 466.44,229.61 465.07,229.3 C463.7,229 461.5,228.27 459.96,227.62 C458.42,226.97 456.99,225.98 455.84,225.41 C454.69,224.84 453.86,224.67 453.04,224.2 C452.21,223.73 451.25,222.86 450.9,222.6 Z" fill="#000" fill-opacity="0.172" clip-path="url(#c23)"/>
<path d="M450.9,231.2H472.32" stroke="#1a1aff" stroke-width="1.0" stroke-dasharray="3.3 2.9" fill="none"/>
<path d="M451.72,225.01 C452.68,224.57 455.57,222.6 457.49,222.4 C459.41,222.2 461.47,223.1 463.26,223.8 C465.04,224.5 466.69,225.74 468.2,226.61 C469.71,227.48 471.63,228.62 472.32,229.02" stroke="#0e62b0" stroke-width="1.3" fill="none" stroke-linejoin="round" clip-path="url(#c23)"/>
<path d="M452.21,216.88L449.91,220.83L454.51,220.83Z M457.32,219.89L455.02,223.84L459.62,223.84Z M462.43,220.9L460.13,224.85L464.73,224.85Z M467.38,222.91L465.08,226.86L469.68,226.86Z M472.65,225.32L470.35,229.27L474.95,229.27Z" fill="#000"/>
<path d="M447.6,199.3V247.5H530" stroke="#262626" stroke-width="0.9" fill="none"/>
<path d="M447.6,199.3h5 M447.6,215.37h5 M447.6,231.43h5 M447.6,247.5h5 M464.08,247.5v-4.5 M480.56,247.5v-4.5 M497.04,247.5v-4.5 M513.52,247.5v-4.5 M530,247.5v-4.5" stroke="#555" stroke-width="0.5" fill="none"/>
<text x="442.7" y="203.2" font-size="12" text-anchor="end">8</text>
<text x="442.7" y="219.27" font-size="12" text-anchor="end">4</text>
<text x="442.7" y="235.33" font-size="12" text-anchor="end">0</text>
<text x="442.7" y="251.4" font-size="12" text-anchor="end">4</text>
<rect x="428.3" y="247.5" width="7.6" height="0.85" fill="#111"/>
<text x="447.6" y="260.8" font-size="12" text-anchor="middle">0</text>
<text x="464.08" y="260.8" font-size="12" text-anchor="middle">1</text>
<text x="480.56" y="260.8" font-size="12" text-anchor="middle">2</text>
<text x="497.04" y="260.8" font-size="12" text-anchor="middle">3</text>
<text x="513.52" y="260.8" font-size="12" text-anchor="middle">4</text>
<text x="530" y="260.8" font-size="12" text-anchor="middle">5</text>
<clipPath id="c30"><rect x="52.8" y="284.5" width="82.4" height="48.2"/></clipPath>
<path d="M52.8,284.5H135.2 M52.8,296.55H135.2 M52.8,308.6H135.2 M52.8,320.65H135.2 M69.28,284.5V332.7 M85.76,284.5V332.7 M102.24,284.5V332.7 M118.72,284.5V332.7 M135.2,284.5V332.7" stroke="#a8a8a8" stroke-width="0.7" stroke-dasharray="0.8 2.2" fill="none"/>
<path d="M56.1,290.83 C56.34,292.35 57.11,297.91 57.58,299.98 C58.05,302.06 57.85,302.46 58.9,303.3 C59.94,304.13 62.17,304.55 63.84,304.99 C65.52,305.42 66.7,306.02 68.95,305.89 C71.2,305.76 74.55,304.35 77.36,304.2 C80.16,304.05 82.38,304.57 85.76,304.99 C89.14,305.4 92.85,306.52 97.63,306.67 C102.4,306.82 108.23,305.74 114.44,305.89 C120.64,306.04 131.46,307.29 134.87,307.58 L134.87,308.9 C132.73,308.93 126.08,309.03 122.02,309.08 C117.95,309.13 114.55,309.16 110.48,309.2 C106.41,309.24 102.57,309.12 97.63,309.32 C92.68,309.52 85.05,310 80.82,310.41 C76.59,310.82 75.08,311.19 72.25,311.79 C69.42,312.4 65.98,313.55 63.84,314.02 C61.7,314.49 60.68,314.52 59.39,314.62 C58.1,314.73 56.65,314.62 56.1,314.62 Z" fill="#000" fill-opacity="0.172" clip-path="url(#c30)"/>
<path d="M56.1,308.5H135.2" stroke="#1a1aff" stroke-width="1.0" stroke-dasharray="3.3 2.9" fill="none"/>
<path d="M56.92,311.01 C58.16,311.06 61.73,311.56 64.34,311.31 C66.95,311.06 69.83,310.11 72.58,309.5 C75.32,308.9 78.07,308.2 80.82,307.7 C83.56,307.19 86.31,306.49 89.06,306.49 C91.8,306.49 94.55,307.34 97.3,307.7 C100.04,308.05 102.51,308.5 105.54,308.6 C108.56,308.7 112.4,308.35 115.42,308.3 C118.45,308.25 120.37,308.25 123.66,308.3 C126.96,308.35 133.28,308.55 135.2,308.6" stroke="#0e62b0" stroke-width="1.3" fill="none" stroke-linejoin="round" clip-path="url(#c30)"/>
<path d="M57.41,307.7L55.11,311.66L59.71,311.66Z M62.69,307.7L60.39,311.66L64.99,311.66Z M70.93,307.4L68.63,311.35L73.23,311.35Z M79.17,307.1L76.87,311.05L81.47,311.05Z M87.41,307.1L85.11,311.05L89.71,311.05Z M95.65,306.5L93.35,310.45L97.95,310.45Z M102.24,306.5L99.94,310.45L104.54,310.45Z M107.18,306.5L104.88,310.45L109.48,310.45Z M112.13,306.5L109.83,310.45L114.43,310.45Z M117.07,306.5L114.77,310.45L119.37,310.45Z M122.02,306.5L119.72,310.45L124.32,310.45Z M126.96,306.5L124.66,310.45L129.26,310.45Z M131.9,306.5L129.6,310.45L134.2,310.45Z" fill="#000"/>
<path d="M52.8,284.5V332.7H135.2" stroke="#262626" stroke-width="0.9" fill="none"/>
<path d="M52.8,284.5h5 M52.8,296.55h5 M52.8,308.6h5 M52.8,320.65h5 M52.8,332.7h5 M69.28,332.7v-4.5 M85.76,332.7v-4.5 M102.24,332.7v-4.5 M118.72,332.7v-4.5 M135.2,332.7v-4.5" stroke="#555" stroke-width="0.5" fill="none"/>
<text x="47.9" y="288.4" font-size="12" text-anchor="end">4</text>
<text x="47.9" y="300.45" font-size="12" text-anchor="end">2</text>
<text x="47.9" y="312.5" font-size="12" text-anchor="end">0</text>
<text x="47.9" y="324.55" font-size="12" text-anchor="end">2</text>
<rect x="33.5" y="320.65" width="7.6" height="0.85" fill="#111"/>
<text x="47.9" y="336.6" font-size="12" text-anchor="end">4</text>
<rect x="33.5" y="332.7" width="7.6" height="0.85" fill="#111"/>
<text x="52.8" y="346" font-size="12" text-anchor="middle">0</text>
<text x="69.28" y="346" font-size="12" text-anchor="middle">1</text>
<text x="85.76" y="346" font-size="12" text-anchor="middle">2</text>
<text x="102.24" y="346" font-size="12" text-anchor="middle">3</text>
<text x="118.72" y="346" font-size="12" text-anchor="middle">4</text>
<text x="135.2" y="346" font-size="12" text-anchor="middle">5</text>
<clipPath id="c31"><rect x="174.8" y="284.5" width="82.4" height="48.2"/></clipPath>
<path d="M174.8,284.5H257.2 M174.8,296.55H257.2 M174.8,308.6H257.2 M174.8,320.65H257.2 M191.28,284.5V332.7 M207.76,284.5V332.7 M224.24,284.5V332.7 M240.72,284.5V332.7 M257.2,284.5V332.7" stroke="#a8a8a8" stroke-width="0.7" stroke-dasharray="0.8 2.2" fill="none"/>
<path d="M178.1,290.52 C178.32,291.95 178.81,297.23 179.41,299.08 C180.02,300.93 179.8,301.05 181.72,301.61 C183.64,302.17 187.43,302.17 190.95,302.45 C194.47,302.74 199.44,302.88 202.82,303.3 C206.19,303.72 208.42,304.37 211.22,304.99 C214.02,305.6 217.18,306.49 219.63,306.97 C222.07,307.46 220.86,307.71 225.89,307.88 C230.91,308.05 245.8,307.98 249.78,308 L249.78,308.9 C245.8,308.9 230.91,308.87 225.89,308.9 C220.86,308.93 223.47,308.88 219.63,309.08 C215.78,309.28 207.05,309.81 202.82,310.11 C198.59,310.41 197.08,310.47 194.25,310.89 C191.42,311.31 188.12,312.06 185.84,312.64 C183.56,313.21 181.86,313.99 180.57,314.32 C179.28,314.66 178.51,314.57 178.1,314.62 Z" fill="#000" fill-opacity="0.172" clip-path="url(#c31)"/>
<path d="M178.1,308.5H250.61" stroke="#1a1aff" stroke-width="1.0" stroke-dasharray="3.3 2.9" fill="none"/>
<path d="M178.92,306.19 C180.16,306.59 183.73,308.25 186.34,308.6 C188.95,308.95 191.55,308.7 194.58,308.3 C197.6,307.9 201.72,306.64 204.46,306.19 C207.21,305.74 208.58,305.49 211.06,305.59 C213.53,305.69 217.1,306.34 219.3,306.79 C221.49,307.24 221.77,308.05 224.24,308.3 C226.71,308.55 229.87,308.3 234.13,308.3 C238.39,308.3 247.17,308.3 249.78,308.3" stroke="#0e62b0" stroke-width="1.3" fill="none" stroke-linejoin="round" clip-path="url(#c31)"/>
<path d="M179.41,307.7L177.11,311.66L181.71,311.66Z M184.69,307.7L182.39,311.66L186.99,311.66Z M192.93,307.28L190.63,311.23L195.23,311.23Z M201.17,306.98L198.87,310.93L203.47,310.93Z M209.41,306.8L207.11,310.75L211.71,310.75Z M217.65,306.5L215.35,310.45L219.95,310.45Z M224.24,306.2L221.94,310.15L226.54,310.15Z M229.18,306.2L226.88,310.15L231.48,310.15Z M234.13,306.02L231.83,309.97L236.43,309.97Z M239.07,306.02L236.77,309.97L241.37,309.97Z M244.02,306.02L241.72,309.97L246.32,309.97Z M248.96,306.02L246.66,309.97L251.26,309.97Z" fill="#000"/>
<path d="M174.8,284.5V332.7H257.2" stroke="#262626" stroke-width="0.9" fill="none"/>
<path d="M174.8,284.5h5 M174.8,296.55h5 M174.8,308.6h5 M174.8,320.65h5 M174.8,332.7h5 M191.28,332.7v-4.5 M207.76,332.7v-4.5 M224.24,332.7v-4.5 M240.72,332.7v-4.5 M257.2,332.7v-4.5" stroke="#555" stroke-width="0.5" fill="none"/>
<text x="169.9" y="288.4" font-size="12" text-anchor="end">4</text>
<text x="169.9" y="300.45" font-size="12" text-anchor="end">2</text>
<text x="169.9" y="312.5" font-size="12" text-anchor="end">0</text>
<text x="169.9" y="324.55" font-size="12" text-anchor="end">2</text>
<rect x="155.5" y="320.65" width="7.6" height="0.85" fill="#111"/>
<text x="169.9" y="336.6" font-size="12" text-anchor="end">4</text>
<rect x="155.5" y="332.7" width="7.6" height="0.85" fill="#111"/>
<text x="174.8" y="346" font-size="12" text-anchor="middle">0</text>
<text x="191.28" y="346" font-size="12" text-anchor="middle">1</text>
<text x="207.76" y="346" font-size="12" text-anchor="middle">2</text>
<text x="224.24" y="346" font-size="12" text-anchor="middle">3</text>
<text x="240.72" y="346" font-size="12" text-anchor="middle">4</text>
<text x="257.2" y="346" font-size="12" text-anchor="middle">5</text>
<clipPath id="c32"><rect x="311.4" y="284.5" width="82.4" height="48.2"/></clipPath>
<path d="M311.4,284.5H393.8 M311.4,296.55H393.8 M311.4,308.6H393.8 M311.4,320.65H393.8 M327.88,284.5V332.7 M344.36,284.5V332.7 M360.84,284.5V332.7 M377.32,284.5V332.7 M393.8,284.5V332.7" stroke="#a8a8a8" stroke-width="0.7" stroke-dasharray="0.8 2.2" fill="none"/>
<path d="M314.7,299.26 C315.66,299.51 318.54,300.42 320.46,300.77 C322.39,301.12 324.17,300.97 326.23,301.37 C328.29,301.77 330.35,302.52 332.82,303.18 C335.3,303.83 337.49,304.63 341.06,305.29 C344.63,305.94 350.13,306.54 354.25,307.09 C358.37,307.65 363.86,308.35 365.78,308.6 L365.78,308.9 C363.86,308.95 358.37,309 354.25,309.2 C350.13,309.4 345.46,309.75 341.06,310.11 C336.67,310.46 331.45,310.86 327.88,311.31 C324.31,311.76 321.84,312.27 319.64,312.82 C317.44,313.37 315.52,314.32 314.7,314.62 Z" fill="#000" fill-opacity="0.172" clip-path="url(#c32)"/>
<path d="M314.7,308.5H369.08" stroke="#1a1aff" stroke-width="1.0" stroke-dasharray="3.3 2.9" fill="none"/>
<path d="M315.36,303.48 C316.21,302.93 318.65,300.62 320.46,300.17 C322.28,299.71 324.17,300.37 326.23,300.77 C328.29,301.17 330.35,301.87 332.82,302.57 C335.3,303.28 337.49,304.28 341.06,304.99 C344.63,305.69 349.58,306.19 354.25,306.79 C358.92,307.4 366.61,308.3 369.08,308.6" stroke="#0e62b0" stroke-width="1.3" fill="none" stroke-linejoin="round" clip-path="url(#c32)"/>
<path d="M321.29,309.51L318.99,313.46L323.59,313.46Z M329.36,308.73L327.06,312.68L331.66,312.68Z M337.27,308.31L334.97,312.26L339.57,312.26Z M345.84,307.7L343.54,311.66L348.14,311.66Z M354.25,306.8L351.95,310.75L356.55,310.75Z M360.68,306.2L358.38,310.15L362.98,310.15Z M365.78,305.9L363.48,309.85L368.08,309.85Z" fill="#000"/>
<path d="M311.4,284.5V332.7H393.8" stroke="#262626" stroke-width="0.9" fill="none"/>
<path d="M311.4,284.5h5 M311.4,296.55h5 M311.4,308.6h5 M311.4,320.65h5 M311.4,332.7h5 M327.88,332.7v-4.5 M344.36,332.7v-4.5 M360.84,332.7v-4.5 M377.32,332.7v-4.5 M393.8,332.7v-4.5" stroke="#555" stroke-width="0.5" fill="none"/>
<text x="306.5" y="288.4" font-size="12" text-anchor="end">4</text>
<text x="306.5" y="300.45" font-size="12" text-anchor="end">2</text>
<text x="306.5" y="312.5" font-size="12" text-anchor="end">0</text>
<text x="306.5" y="324.55" font-size="12" text-anchor="end">2</text>
<rect x="292.1" y="320.65" width="7.6" height="0.85" fill="#111"/>
<text x="306.5" y="336.6" font-size="12" text-anchor="end">4</text>
<rect x="292.1" y="332.7" width="7.6" height="0.85" fill="#111"/>
<text x="311.4" y="346" font-size="12" text-anchor="middle">0</text>
<text x="327.88" y="346" font-size="12" text-anchor="middle">1</text>
<text x="344.36" y="346" font-size="12" text-anchor="middle">2</text>
<text x="360.84" y="346" font-size="12" text-anchor="middle">3</text>
<text x="377.32" y="346" font-size="12" text-anchor="middle">4</text>
<text x="393.8" y="346" font-size="12" text-anchor="middle">5</text>
<clipPath id="c33"><rect x="447.6" y="284.5" width="82.4" height="48.2"/></clipPath>
<path d="M447.6,284.5H530 M447.6,296.55H530 M447.6,308.6H530 M447.6,320.65H530 M464.08,284.5V332.7 M480.56,284.5V332.7 M497.04,284.5V332.7 M513.52,284.5V332.7 M530,284.5V332.7" stroke="#a8a8a8" stroke-width="0.7" stroke-dasharray="0.8 2.2" fill="none"/>
<path d="M451.72,310.41 C452.41,310.36 454.33,310.21 455.84,310.11 C457.35,310.01 458.86,309.91 460.78,309.81 C462.71,309.7 466.28,309.55 467.38,309.5 L467.38,310.11 C466.28,310.31 462.71,310.96 460.78,311.31 C458.86,311.66 457.35,312.06 455.84,312.21 C454.33,312.37 452.41,312.21 451.72,312.21 Z" fill="#000" fill-opacity="0.172" clip-path="url(#c33)"/>
<path d="M450.9,308.5H472.32" stroke="#1a1aff" stroke-width="1.0" stroke-dasharray="3.3 2.9" fill="none"/>
<path d="M451.72,314.02 C452.41,313.57 454.33,311.96 455.84,311.31 C457.35,310.66 458.86,310.41 460.78,310.11 C462.71,309.81 465.32,309.65 467.38,309.5 C469.44,309.35 472.18,309.25 473.14,309.2" stroke="#0e62b0" stroke-width="1.3" fill="none" stroke-linejoin="round" clip-path="url(#c33)"/>
<path d="M452.21,306.5L449.91,310.45L454.51,310.45Z M457.32,307.1L455.02,311.05L459.62,311.05Z M462.43,306.5L460.13,310.45L464.73,310.45Z M467.38,306.2L465.08,310.15L469.68,310.15Z M472.65,305.9L470.35,309.85L474.95,309.85Z" fill="#000"/>
<path d="M447.6,284.5V332.7H530" stroke="#262626" stroke-width="0.9" fill="none"/>
<path d="M447.6,284.5h5 M447.6,296.55h5 M447.6,308.6h5 M447.6,320.65h5 M447.6,332.7h5 M464.08,332.7v-4.5 M480.56,332.7v-4.5 M497.04,332.7v-4.5 M513.52,332.7v-4.5 M530,332.7v-4.5" stroke="#555" stroke-width="0.5" fill="none"/>
<text x="442.7" y="288.4" font-size="12" text-anchor="end">4</text>
<text x="442.7" y="300.45" font-size="12" text-anchor="end">2</text>
<text x="442.7" y="312.5" font-size="12" text-anchor="end">0</text>
<text x="442.7" y="324.55" font-size="12" text-anchor="end">2</text>
<rect x="428.3" y="320.65" width="7.6" height="0.85" fill="#111"/>
<text x="442.7" y="336.6" font-size="12" text-anchor="end">4</text>
<rect x="428.3" y="332.7" width="7.6" height="0.85" fill="#111"/>
<text x="447.6" y="346" font-size="12" text-anchor="middle">0</text>
<text x="464.08" y="346" font-size="12" text-anchor="middle">1</text>
<text x="480.56" y="346" font-size="12" text-anchor="middle">2</text>
<text x="497.04" y="346" font-size="12" text-anchor="middle">3</text>
<text x="513.52" y="346" font-size="12" text-anchor="middle">4</text>
<text x="530" y="346" font-size="12" text-anchor="middle">5</text>
<text x="57.05" y="11.6" font-size="13.8" textLength="10.2" lengthAdjust="spacingAndGlyphs">T</text>
<text x="67.05" y="14.3" font-size="9.1">op</text>
<rect x="83.15" y="6.25" width="9.1" height="0.85" fill="#111"/>
<rect x="83.15" y="8.95" width="9.1" height="0.85" fill="#111"/>
<text x="97.35" y="11.6" font-size="13.6" textLength="17.4" lengthAdjust="spacingAndGlyphs">4.5</text>
<text x="118.05" y="11.6" font-size="13.6">K</text>
<text x="185.05" y="11.6" font-size="13.8" textLength="10.2" lengthAdjust="spacingAndGlyphs">T</text>
<text x="195.05" y="14.3" font-size="9.1">op</text>
<rect x="211.15" y="6.25" width="9.1" height="0.85" fill="#111"/>
<rect x="211.15" y="8.95" width="9.1" height="0.85" fill="#111"/>
<text x="225.35" y="11.6" font-size="13.6">9</text>
<text x="235.45" y="11.6" font-size="13.6">K</text>
<text x="316.9" y="11.6" font-size="13.8" textLength="10.2" lengthAdjust="spacingAndGlyphs">T</text>
<text x="326.9" y="14.3" font-size="9.1">op</text>
<rect x="343" y="6.25" width="9.1" height="0.85" fill="#111"/>
<rect x="343" y="8.95" width="9.1" height="0.85" fill="#111"/>
<text x="357.2" y="11.6" font-size="13.6">25</text>
<text x="374.1" y="11.6" font-size="13.6">K</text>
<text x="453.9" y="11.6" font-size="13.8" textLength="10.2" lengthAdjust="spacingAndGlyphs">T</text>
<text x="463.9" y="14.3" font-size="9.1">op</text>
<rect x="480" y="6.25" width="9.1" height="0.85" fill="#111"/>
<rect x="480" y="8.95" width="9.1" height="0.85" fill="#111"/>
<text x="494.2" y="11.6" font-size="13.6">68</text>
<text x="511.1" y="11.6" font-size="13.6">K</text>
<g transform="translate(12.3,80.4) rotate(-90)">
<text x="0" y="0" font-size="14.6" textLength="7.7" lengthAdjust="spacingAndGlyphs">b</text>
<text x="8.8" y="2.4" font-size="10">1</text>
<path d="M22.6,-10.9H20.5V3.6H22.6" stroke="#111" stroke-width="0.7" fill="none"/>
<text x="23.4" y="0" font-size="14.6" textLength="27.4" lengthAdjust="spacingAndGlyphs">units</text>
<path d="M52.15,-10.9H54.25V3.6H52.15" stroke="#111" stroke-width="0.7" fill="none"/>
</g>
<g transform="translate(12.3,165.6) rotate(-90)">
<text x="0" y="0" font-size="14.6" textLength="7.7" lengthAdjust="spacingAndGlyphs">b</text>
<text x="8.8" y="2.4" font-size="10">3</text>
<path d="M22.6,-10.9H20.5V3.6H22.6" stroke="#111" stroke-width="0.7" fill="none"/>
<text x="23.4" y="0" font-size="14.6" textLength="27.4" lengthAdjust="spacingAndGlyphs">units</text>
<path d="M52.15,-10.9H54.25V3.6H52.15" stroke="#111" stroke-width="0.7" fill="none"/>
</g>
<g transform="translate(19,251.45) rotate(-90)">
<text x="0" y="0" font-size="14.6" textLength="7.7" lengthAdjust="spacingAndGlyphs">b</text>
<text x="8.8" y="2.4" font-size="10">5</text>
<path d="M22.6,-10.9H20.5V3.6H22.6" stroke="#111" stroke-width="0.7" fill="none"/>
<text x="23.4" y="0" font-size="14.6" textLength="27.4" lengthAdjust="spacingAndGlyphs">units</text>
<path d="M52.15,-10.9H54.25V3.6H52.15" stroke="#111" stroke-width="0.7" fill="none"/>
</g>
<g transform="translate(19,336.65) rotate(-90)">
<text x="0" y="0" font-size="14.6" textLength="7.7" lengthAdjust="spacingAndGlyphs">b</text>
<text x="8.8" y="2.4" font-size="10">7</text>
<path d="M22.6,-10.9H20.5V3.6H22.6" stroke="#111" stroke-width="0.7" fill="none"/>
<text x="23.4" y="0" font-size="14.6" textLength="27.4" lengthAdjust="spacingAndGlyphs">units</text>
<path d="M52.15,-10.9H54.25V3.6H52.15" stroke="#111" stroke-width="0.7" fill="none"/>
</g>
<path d="M87.8,354.9H85.8V369.4H87.8" stroke="#111" stroke-width="0.7" fill="none"/>
<text x="88.2" y="365.8" font-size="14" textLength="17.0" lengthAdjust="spacingAndGlyphs">kA</text>
<path d="M105.4,354.9H107.4V369.4H105.4" stroke="#111" stroke-width="0.7" fill="none"/>
<path d="M209.8,354.9H207.8V369.4H209.8" stroke="#111" stroke-width="0.7" fill="none"/>
<text x="210.2" y="365.8" font-size="14" textLength="17.0" lengthAdjust="spacingAndGlyphs">kA</text>
<path d="M227.4,354.9H229.4V369.4H227.4" stroke="#111" stroke-width="0.7" fill="none"/>
<path d="M346.4,354.9H344.4V369.4H346.4" stroke="#111" stroke-width="0.7" fill="none"/>
<text x="346.8" y="365.8" font-size="14" textLength="17.0" lengthAdjust="spacingAndGlyphs">kA</text>
<path d="M364,354.9H366V369.4H364" stroke="#111" stroke-width="0.7" fill="none"/>
<path d="M482.6,354.9H480.6V369.4H482.6" stroke="#111" stroke-width="0.7" fill="none"/>
<text x="483" y="365.8" font-size="14" textLength="17.0" lengthAdjust="spacingAndGlyphs">kA</text>
<path d="M500.2,354.9H502.2V369.4H500.2" stroke="#111" stroke-width="0.7" fill="none"/>
<rect x="91.3" y="375.6" width="345.5" height="22.5" fill="#fff" stroke="#262626" stroke-width="0.9"/>
<path d="M97.1,384.2L94.9,388.3L99.3,388.3Z" fill="#000"/>
<text x="101.9" y="390.9" font-size="14" textLength="32.6" lengthAdjust="spacingAndGlyphs">meas.</text>
<text x="159.6" y="390.9" font-size="14" textLength="57.6" lengthAdjust="spacingAndGlyphs">,n=sweep</text>
<text x="241.5" y="390.9" font-size="14" textLength="35.5" lengthAdjust="spacingAndGlyphs">,n=20</text>
<text x="301.3" y="390.9" font-size="14" textLength="105.4" lengthAdjust="spacingAndGlyphs">,|<tspan font-weight="bold">J</tspan>| homogeneous</text>
</svg>
</body></html>
